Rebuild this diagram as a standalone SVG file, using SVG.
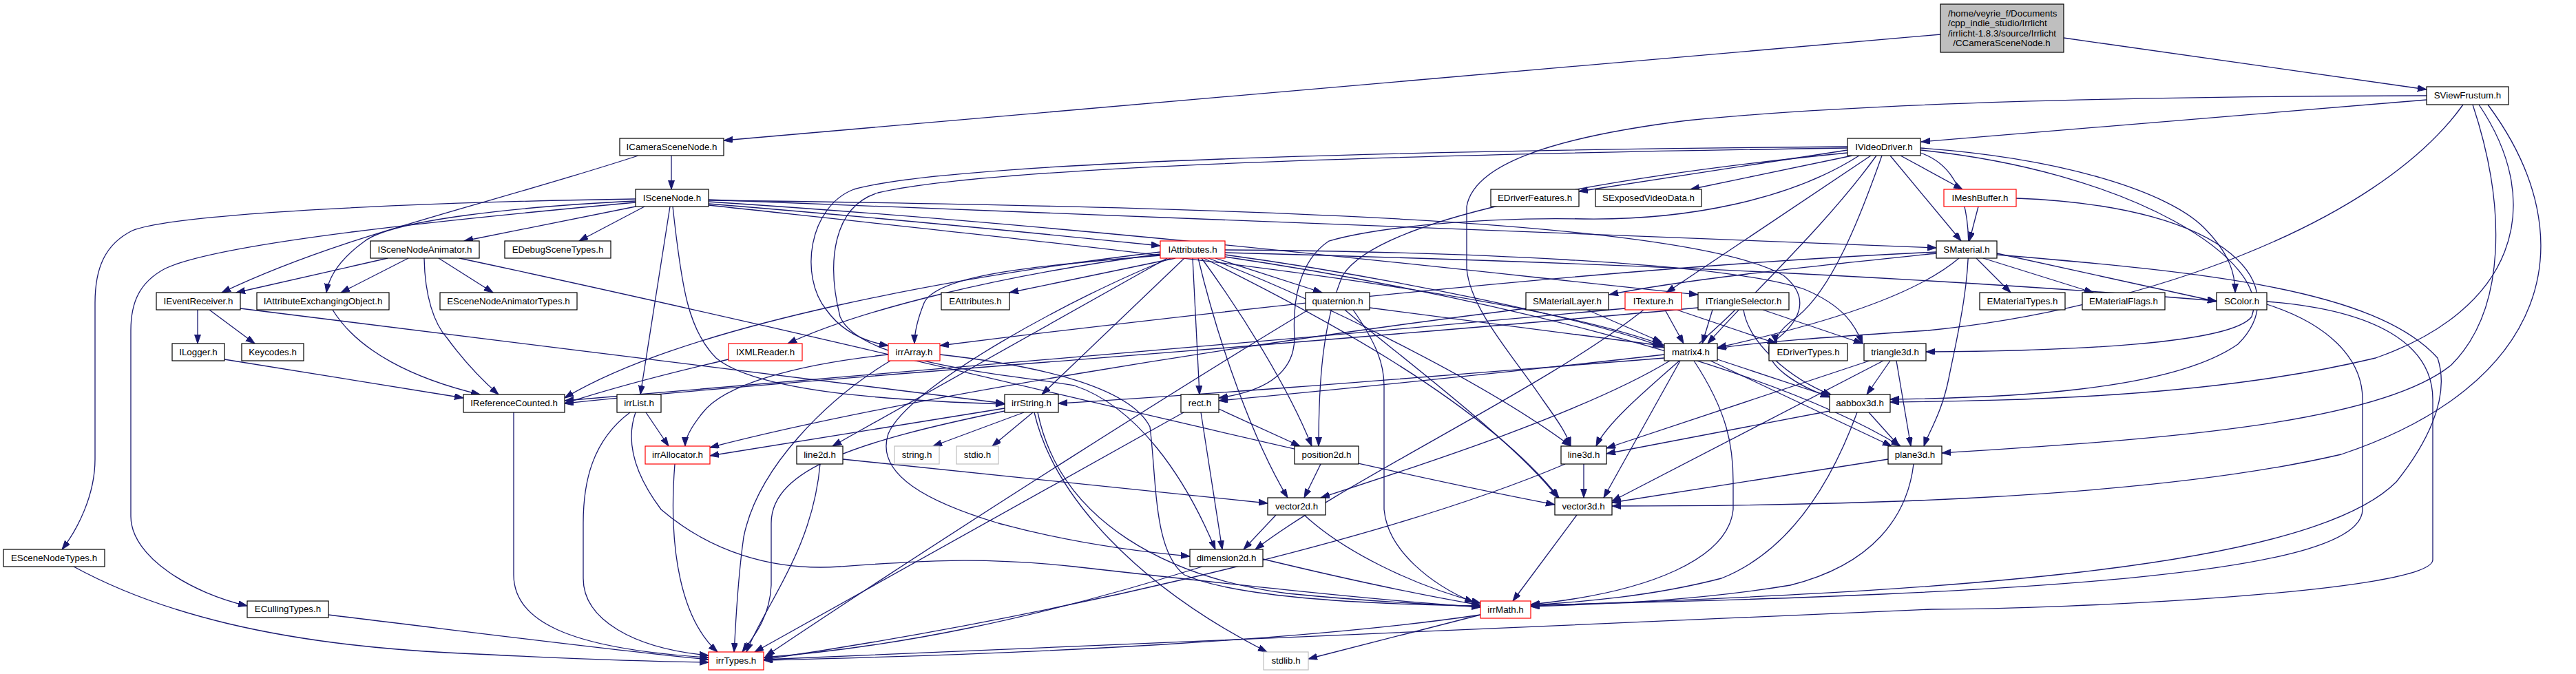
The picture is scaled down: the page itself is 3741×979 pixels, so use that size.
<svg xmlns="http://www.w3.org/2000/svg" width="3741" height="979" viewBox="0 0 3741 979">
<style>
.n rect{fill:#fff;stroke:#000;stroke-width:1.2}
.n.r rect{stroke:#f00}
.n.g rect{stroke:#bfbfbf}
.n.root rect{fill:#bfbfbf}
text{font-family:"Liberation Sans",Arial,Helvetica,sans-serif;font-size:13.33px;text-anchor:middle;fill:#000}
.st{text-anchor:start}
#edges path{fill:none;stroke:#191970;stroke-width:1.3;marker-end:url(#a)}
</style>
<defs>
<marker id="a" markerUnits="userSpaceOnUse" markerWidth="14" markerHeight="10" refX="13" refY="4.5" orient="auto">
<path d="M0,0 L13,4.5 L0,9 z" fill="#191970" stroke="#191970" stroke-width="1"/>
</marker>
</defs>
<rect width="3741" height="979" fill="#fff"/>
<g id="edges">
<path d="M2818,50 L1051,204"/>
<path d="M2997,55 L3524,130"/>
<path d="M975,226 L975,275"/>
<path d="M927,226 C700,300 500,340 322,425"/>
<path d="M923,289 C650,293 260,308 192,335 C152,355 138,390 138,440 L138,667 C138,720 112,770 90,798"/>
<path d="M923,294 C660,318 320,352 240,390 C202,410 190,440 190,480 L190,750 C190,810 280,862 359,880"/>
<path d="M923,292 C750,300 570,320 530,350 C495,375 478,400 474,425"/>
<path d="M923,300 L674,350"/>
<path d="M936,300 L841,350"/>
<path d="M1029,296 C1300,318 1500,338 1685,357"/>
<path d="M1029,290 L2812,360"/>
<path d="M1029,293 C1600,330 2100,390 2466,428"/>
<path d="M1029,291 C1800,300 2450,320 2590,400 C2640,440 2600,480 2570,500 C2560,530 2610,560 2657,577"/>
<path d="M1029,298 C1600,360 2200,420 2417,502"/>
<path d="M977,300 C990,420 1000,480 1040,520 C1100,570 1300,582 1459,587"/>
<path d="M973,300 L930,573"/>
<path d="M563,375 L343,425"/>
<path d="M593,375 L495,425"/>
<path d="M637,375 L716,425"/>
<path d="M616,375 C617,430 630,470 650,492 C672,522 700,552 724,573"/>
<path d="M667,375 C1300,510 1900,665 2258,733"/>
<path d="M287,450 L287,499"/>
<path d="M304,450 L370,499"/>
<path d="M349,448 L1459,586"/>
<path d="M483,450 C520,510 600,550 697,573"/>
<path d="M326,522 L673,578"/>
<path d="M746,599 L746,835 C746,900 820,942 1029,955"/>
<path d="M938,599 L971,648"/>
<path d="M915,599 C860,640 847,700 847,760 L847,840 C847,900 920,942 1029,952"/>
<path d="M923,599 C905,650 930,700 960,740 C1030,800 1120,830 1220,823 C1330,815 1420,808 1560,823 C1800,850 2000,872 2150,882"/>
<path d="M477,893 C700,920 900,946 1029,958"/>
<path d="M107,823 C230,890 400,935 650,948 C850,958 950,961 1029,962"/>
<path d="M1685,366 C1400,400 1000,470 820,578"/>
<path d="M1685,369 C1450,400 1250,450 1144,499"/>
<path d="M1707,375 L1466,425"/>
<path d="M1685,371 C1500,386 1360,400 1342,440 C1332,465 1328,482 1328,499"/>
<path d="M1720,375 L1513,573"/>
<path d="M1732,375 L1742,573"/>
<path d="M1700,375 C1560,430 1320,560 1290,630 C1270,690 1350,730 1450,760 C1560,790 1660,802 1728,808"/>
<path d="M1695,375 L1209,648"/>
<path d="M1779,363 C2100,365 2500,380 2620,420 C2680,445 2695,475 2705,499"/>
<path d="M1779,367 C2200,378 2700,395 3219,437"/>
<path d="M1779,370 C2000,400 2300,460 2417,505"/>
<path d="M1765,375 L1920,425"/>
<path d="M1745,375 C1800,450 1870,560 1905,648"/>
<path d="M1740,375 C1770,500 1820,640 1870,723"/>
<path d="M1748,375 C1900,450 2150,580 2264,723"/>
<path d="M1755,375 C1900,430 2150,550 2281,648"/>
<path d="M1779,373 C2100,420 2550,520 2760,648"/>
<path d="M1989,447 L2413,502"/>
<path d="M1953,450 C2010,500 2200,640 2262,723"/>
<path d="M1965,450 C2000,500 2010,530 2010,560 L2010,740 C2015,800 2080,850 2140,875"/>
<path d="M1900,450 C1750,540 1400,760 1112,953"/>
<path d="M2305,450 L2413,497"/>
<path d="M2216,448 C1800,500 1300,580 1031,650"/>
<path d="M2418,450 L2445,499"/>
<path d="M2435,450 L2580,499"/>
<path d="M2387,450 C2250,560 1950,700 1823,798"/>
<path d="M2360,448 C1800,500 1100,560 820,582"/>
<path d="M2487,450 L2472,499"/>
<path d="M2560,450 L2705,499"/>
<path d="M2532,450 C2540,500 2600,550 2660,574"/>
<path d="M2520,450 C2450,520 2340,600 2318,648"/>
<path d="M2466,447 C1900,500 1100,555 820,586"/>
<path d="M2870,375 L2920,425"/>
<path d="M2880,375 L3040,425"/>
<path d="M2900,368 L3219,438"/>
<path d="M2812,368 C2650,385 2450,405 2337,428"/>
<path d="M2845,375 C2780,430 2650,470 2494,505"/>
<path d="M2812,366 C2300,390 1700,460 1365,502"/>
<path d="M2900,370 C3200,395 3450,420 3540,520 C3560,580 3520,650 3480,700 C3350,830 2800,860 2223,880"/>
<path d="M2873,300 L2860,350"/>
<path d="M2928,288 C3250,300 3330,420 3250,500 C3150,570 2900,578 2745,580"/>
<path d="M2760,226 L2850,275"/>
<path d="M2745,226 L2848,350"/>
<path d="M2683,218 L2293,278"/>
<path d="M2690,226 L2455,275"/>
<path d="M2717,226 L2420,425"/>
<path d="M2683,213 C2200,217 1400,230 1240,275 C1175,300 1160,400 1200,450 C1225,485 1260,497 1290,502"/>
<path d="M2683,215 C2200,222 1450,238 1275,280 C1210,300 1200,380 1220,460 C1250,530 1480,545 1560,560 C1650,590 1720,690 1765,798"/>
<path d="M2700,226 C2600,290 2450,320 2300,318 C2150,315 2000,330 1930,350 C1885,380 1877,440 1880,490 C1880,540 1840,568 1770,578"/>
<path d="M2789,215 C3000,230 3150,280 3200,330 C3240,370 3246,400 3246,425"/>
<path d="M2789,218 C3100,250 3300,380 3270,460 C3240,500 3000,510 2797,511"/>
<path d="M2733,226 C2700,320 2660,420 2610,460 C2585,478 2578,490 2580,499"/>
<path d="M2725,226 C2650,330 2540,430 2480,499"/>
<path d="M2683,222 C2300,260 2000,320 1950,400 C1920,470 1915,560 1915,648"/>
<path d="M2789,222 C2900,260 2850,450 2830,550 C2820,600 2800,630 2794,648"/>
<path d="M3524,145 L2790,206"/>
<path d="M3524,139 C3100,140 2700,150 2450,175 C2250,200 2140,240 2130,300 L2130,390 C2135,450 2200,520 2240,580 C2265,615 2275,630 2281,648"/>
<path d="M3591,152 C3640,300 3640,450 3560,530 C3450,620 3100,640 2820,658"/>
<path d="M3613,152 C3760,350 3700,560 3400,660 C3100,730 2600,735 2341,735"/>
<path d="M3600,152 C3700,300 3650,450 3450,520 C3200,580 2900,582 2745,584"/>
<path d="M3577,152 C3450,330 3100,450 2800,480 C2650,490 2550,497 2494,506"/>
<path d="M2460,524 C2510,600 2517,650 2517,700 L2517,740 C2510,810 2400,860 2223,878"/>
<path d="M2440,524 L2329,723"/>
<path d="M2425,524 C2300,600 2050,680 1918,723"/>
<path d="M2484,524 L2747,648"/>
<path d="M2488,520 L2657,576"/>
<path d="M2417,515 C2200,540 1900,570 1770,582"/>
<path d="M2417,520 C2100,545 1800,570 1537,586"/>
<path d="M2735,524 L2341,728"/>
<path d="M2715,524 L2333,651"/>
<path d="M2754,524 L2775,648"/>
<path d="M2745,524 L2711,573"/>
<path d="M2657,597 L2333,659"/>
<path d="M2714,599 L2758,648"/>
<path d="M2697,599 C2660,700 2600,800 2500,840 C2400,866 2300,874 2223,879"/>
<path d="M2742,667 L2341,730"/>
<path d="M2779,674 C2770,750 2720,820 2600,850 C2450,875 2300,878 2223,881"/>
<path d="M2300,674 L2300,723"/>
<path d="M2273,674 C2000,790 1500,900 1109,958"/>
<path d="M2290,748 L2197,873"/>
<path d="M1853,748 L1806,798"/>
<path d="M1894,748 C1950,800 2050,850 2150,876"/>
<path d="M1918,674 L1894,723"/>
<path d="M1719,599 L1096,947"/>
<path d="M1744,599 L1775,798"/>
<path d="M1770,594 L1888,648"/>
<path d="M1746,823 C1500,900 1300,940 1109,955"/>
<path d="M1834,812 C1950,840 2050,862 2150,879"/>
<path d="M1224,667 L1841,731"/>
<path d="M1191,674 C1180,800 1110,880 1084,947"/>
<path d="M980,674 C970,800 990,900 1042,947"/>
<path d="M1459,593 L1031,662"/>
<path d="M1459,597 C1250,640 1120,680 1120,760 L1120,850 C1118,900 1090,930 1078,947"/>
<path d="M1487,599 L1355,648"/>
<path d="M1500,599 L1441,648"/>
<path d="M1502,599 C1530,720 1650,850 1840,947"/>
<path d="M1507,599 C1540,760 1700,840 1870,862 C2000,875 2100,879 2150,881"/>
<path d="M1290,515 C1150,530 1050,560 1020,600 C1000,625 995,640 995,648"/>
<path d="M1293,524 C1200,580 1100,680 1080,780 C1070,850 1068,920 1066,947"/>
<path d="M1365,515 C1500,530 1640,560 1670,620 C1680,700 1675,800 1720,835 C1800,870 2000,878 2150,880"/>
<path d="M1058,522 C980,540 900,560 820,586"/>
<path d="M3292,442 C3380,470 3431,520 3431,580 L3431,740 C3431,830 3000,862 2223,879"/>
<path d="M3292,438 C3450,450 3533,500 3533,580 L3533,813 C3533,860 3000,885 2805,885 C2400,900 1600,940 1109,958"/>
<path d="M2150,893 C1900,930 1500,950 1109,959"/>
<path d="M2150,893 L1900,957"/>
</g>
<g id="n-root" class="n root"><rect x="2818" y="6" width="179" height="70"/>
<text class="st" x="2829" y="23.5">/home/veyrie_f/Documents</text>
<text class="st" x="2829" y="38">/cpp_indie_studio/Irrlicht</text>
<text class="st" x="2829" y="52.5">/irrlicht-1.8.3/source/Irrlicht</text>
<text x="2907" y="67">/CCameraSceneNode.h</text></g>
<g id="n-ICameraSceneNode" class="n"><rect x="900" y="201" width="151" height="25"/><text x="975.5" y="217.5">ICameraSceneNode.h</text></g>
<g id="n-SViewFrustum" class="n"><rect x="3524" y="126" width="119" height="26"/><text x="3583.5" y="143">SViewFrustum.h</text></g>
<g id="n-IVideoDriver" class="n"><rect x="2683" y="201" width="106" height="25"/><text x="2736" y="217.5">IVideoDriver.h</text></g>
<g id="n-ISceneNode" class="n"><rect x="923" y="275" width="106" height="25"/><text x="976" y="291.5">ISceneNode.h</text></g>
<g id="n-EDriverFeatures" class="n"><rect x="2165" y="275" width="128" height="25"/><text x="2229" y="291.5">EDriverFeatures.h</text></g>
<g id="n-SExposedVideoData" class="n"><rect x="2317" y="275" width="154" height="25"/><text x="2394" y="291.5">SExposedVideoData.h</text></g>
<g id="n-IMeshBuffer" class="n r"><rect x="2823" y="275" width="105" height="25"/><text x="2875.5" y="291.5">IMeshBuffer.h</text></g>
<g id="n-ISceneNodeAnimator" class="n"><rect x="538" y="350" width="158" height="25"/><text x="617" y="366.5">ISceneNodeAnimator.h</text></g>
<g id="n-EDebugSceneTypes" class="n"><rect x="733" y="350" width="154" height="25"/><text x="810" y="366.5">EDebugSceneTypes.h</text></g>
<g id="n-IAttributes" class="n r"><rect x="1685" y="350" width="94" height="25"/><text x="1732" y="366.5">IAttributes.h</text></g>
<g id="n-SMaterial" class="n"><rect x="2812" y="350" width="88" height="25"/><text x="2856" y="366.5">SMaterial.h</text></g>
<g id="n-IEventReceiver" class="n"><rect x="227" y="425" width="122" height="25"/><text x="288" y="441.5">IEventReceiver.h</text></g>
<g id="n-IAttributeExchangingObject" class="n"><rect x="373" y="425" width="192" height="25"/><text x="469" y="441.5">IAttributeExchangingObject.h</text></g>
<g id="n-ESceneNodeAnimatorTypes" class="n"><rect x="639" y="425" width="199" height="25"/><text x="738.5" y="441.5">ESceneNodeAnimatorTypes.h</text></g>
<g id="n-EAttributes" class="n"><rect x="1367" y="425" width="99" height="25"/><text x="1416.5" y="441.5">EAttributes.h</text></g>
<g id="n-quaternion" class="n"><rect x="1896" y="425" width="93" height="25"/><text x="1942.5" y="441.5">quaternion.h</text></g>
<g id="n-SMaterialLayer" class="n"><rect x="2216" y="425" width="120" height="25"/><text x="2276" y="441.5">SMaterialLayer.h</text></g>
<g id="n-ITexture" class="n r"><rect x="2360" y="425" width="82" height="25"/><text x="2401" y="441.5">ITexture.h</text></g>
<g id="n-ITriangleSelector" class="n"><rect x="2466" y="425" width="132" height="25"/><text x="2532" y="441.5">ITriangleSelector.h</text></g>
<g id="n-EMaterialTypes" class="n"><rect x="2875" y="425" width="124" height="25"/><text x="2937" y="441.5">EMaterialTypes.h</text></g>
<g id="n-EMaterialFlags" class="n"><rect x="3024" y="425" width="120" height="25"/><text x="3084" y="441.5">EMaterialFlags.h</text></g>
<g id="n-SColor" class="n"><rect x="3219" y="425" width="73" height="25"/><text x="3255.5" y="441.5">SColor.h</text></g>
<g id="n-ILogger" class="n"><rect x="250" y="499" width="76" height="25"/><text x="288" y="515.5">ILogger.h</text></g>
<g id="n-Keycodes" class="n"><rect x="351" y="499" width="90" height="25"/><text x="396" y="515.5">Keycodes.h</text></g>
<g id="n-IXMLReader" class="n r"><rect x="1058" y="499" width="107" height="25"/><text x="1111.5" y="515.5">IXMLReader.h</text></g>
<g id="n-irrArray" class="n r"><rect x="1290" y="499" width="75" height="25"/><text x="1327.5" y="515.5">irrArray.h</text></g>
<g id="n-matrix4" class="n"><rect x="2417" y="499" width="77" height="25"/><text x="2455.5" y="515.5">matrix4.h</text></g>
<g id="n-EDriverTypes" class="n"><rect x="2569" y="499" width="114" height="25"/><text x="2626" y="515.5">EDriverTypes.h</text></g>
<g id="n-triangle3d" class="n"><rect x="2707" y="499" width="90" height="25"/><text x="2752" y="515.5">triangle3d.h</text></g>
<g id="n-IReferenceCounted" class="n"><rect x="673" y="573" width="147" height="26"/><text x="746.5" y="590">IReferenceCounted.h</text></g>
<g id="n-irrList" class="n"><rect x="896" y="573" width="64" height="26"/><text x="928" y="590">irrList.h</text></g>
<g id="n-irrString" class="n"><rect x="1459" y="573" width="78" height="26"/><text x="1498" y="590">irrString.h</text></g>
<g id="n-rect" class="n"><rect x="1715" y="573" width="55" height="26"/><text x="1742.5" y="590">rect.h</text></g>
<g id="n-aabbox3d" class="n"><rect x="2657" y="573" width="88" height="26"/><text x="2701" y="590">aabbox3d.h</text></g>
<g id="n-irrAllocator" class="n r"><rect x="937" y="648" width="94" height="26"/><text x="984" y="665">irrAllocator.h</text></g>
<g id="n-line2d" class="n"><rect x="1157" y="648" width="67" height="26"/><text x="1190.5" y="665">line2d.h</text></g>
<g id="n-string" class="n g"><rect x="1299" y="648" width="65" height="26"/><text x="1331.5" y="665">string.h</text></g>
<g id="n-stdio" class="n g"><rect x="1389" y="648" width="61" height="26"/><text x="1419.5" y="665">stdio.h</text></g>
<g id="n-position2d" class="n"><rect x="1880" y="648" width="93" height="26"/><text x="1926.5" y="665">position2d.h</text></g>
<g id="n-line3d" class="n"><rect x="2267" y="648" width="66" height="26"/><text x="2300" y="665">line3d.h</text></g>
<g id="n-plane3d" class="n"><rect x="2742" y="648" width="78" height="26"/><text x="2781" y="665">plane3d.h</text></g>
<g id="n-vector2d" class="n"><rect x="1841" y="723" width="84" height="25"/><text x="1883" y="739.5">vector2d.h</text></g>
<g id="n-vector3d" class="n"><rect x="2258" y="723" width="83" height="25"/><text x="2299.5" y="739.5">vector3d.h</text></g>
<g id="n-ESceneNodeTypes" class="n"><rect x="5" y="798" width="147" height="25"/><text x="78.5" y="814.5">ESceneNodeTypes.h</text></g>
<g id="n-dimension2d" class="n"><rect x="1728" y="798" width="106" height="25"/><text x="1781" y="814.5">dimension2d.h</text></g>
<g id="n-ECullingTypes" class="n"><rect x="359" y="873" width="118" height="24"/><text x="418" y="889">ECullingTypes.h</text></g>
<g id="n-irrMath" class="n r"><rect x="2150" y="873" width="73" height="25"/><text x="2186.5" y="889.5">irrMath.h</text></g>
<g id="n-irrTypes" class="n r"><rect x="1029" y="947" width="80" height="26"/><text x="1069" y="964">irrTypes.h</text></g>
<g id="n-stdlib" class="n g"><rect x="1835" y="947" width="65" height="26"/><text x="1867.5" y="964">stdlib.h</text></g>
</svg>
